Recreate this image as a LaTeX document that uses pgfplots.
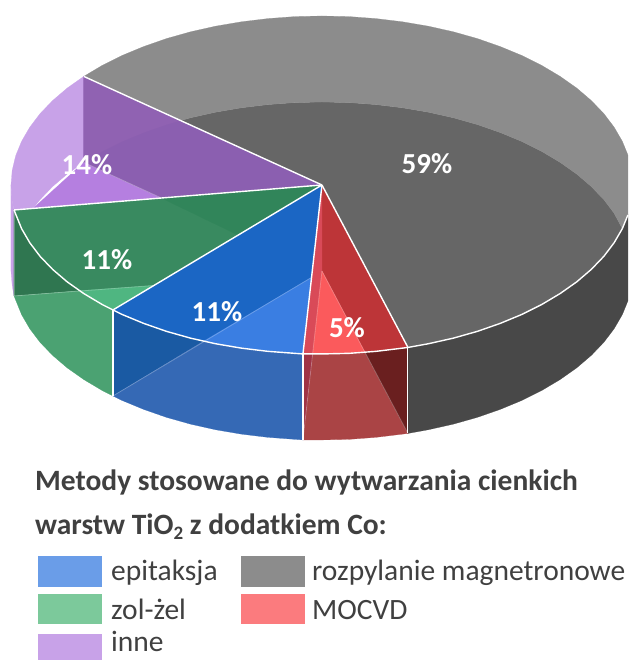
\documentclass[border=0pt]{standalone}
\usepackage{pgfplots}
\pgfplotsset{compat=1.18}
\usepackage{fontspec}
\setmainfont{Carlito}
\definecolor{gband}{HTML}{8C8C8C}
\definecolor{gfloor}{HTML}{666666}
\definecolor{gwall}{HTML}{484848}
\definecolor{plight}{HTML}{C8A2E8}
\definecolor{pmid}{HTML}{B57FE0}
\definecolor{pdark}{HTML}{8B5FB0}
\definecolor{pup}{HTML}{9062B2}
\definecolor{gnmain}{HTML}{398A60}
\definecolor{gnup}{HTML}{31855A}
\definecolor{gndark}{HTML}{2F7650}
\definecolor{gnlight}{HTML}{4FB681}
\definecolor{gnwall}{HTML}{4BA272}
\definecolor{bmain}{HTML}{1B66C4}
\definecolor{bdark}{HTML}{1A5AA3}
\definecolor{blight}{HTML}{3A7EE2}
\definecolor{bwall}{HTML}{3569B5}
\definecolor{rmain}{HTML}{BD3538}
\definecolor{rstrip}{HTML}{D94A58}
\definecolor{rlight}{HTML}{FB5A5C}
\definecolor{rwall}{HTML}{AA4445}
\definecolor{rsliver}{HTML}{A03345}
\definecolor{rdark}{HTML}{6A1F1F}
\definecolor{txt}{HTML}{404040}
\definecolor{lblue}{HTML}{6A9DE8}
\definecolor{lgreen}{HTML}{7CC99B}
\definecolor{lred}{HTML}{FB7B7E}
\pgfplotsset{reg/.style={no marks,forget plot,fill=#1,draw=#1,line width=0.2pt},
 wl/.style={no marks,forget plot,draw=white,line width=1.4pt,line join=round},
 wf/.style={no marks,forget plot,draw=white,draw opacity=0.25,line width=0.8pt}}
\begin{document}
\begin{tikzpicture}
\begin{axis}[hide axis,scale only axis,width=628pt,height=660pt,xmin=0,xmax=628,ymin=0,ymax=660,y dir=reverse,clip=false]
\path (axis cs:0,0) rectangle (axis cs:628,660);
% grey: floor, back wall, front wall
\addplot[reg=gfloor] coordinates {(322,185)(408,347.5)(428.4,343.8)(453.4,338.2)(477.5,331.4)(500.4,323.4)(521.9,314.5)(541.9,304.5)(560.2,293.6)(576.8,281.9)(591.3,269.5)(603.9,256.4)(614.2,242.8)(622.4,228.7)(614.2,213.2)(603.9,199.6)(591.3,186.5)(576.8,174.1)(560.2,162.4)(541.9,151.5)(521.9,141.5)(500.4,132.6)(477.5,124.6)(453.4,117.8)(428.4,112.2)(402.5,107.8)(376,104.6)(349.1,102.6)(322,102)(294.9,102.6)(268,104.6)(241.5,107.8)(215.6,112.2)(190.6,117.8)(181,120.5)} -- cycle;
\addplot[reg=gband] coordinates {(83.8,76.4)(102.1,65.5)(122.1,55.5)(143.6,46.6)(166.5,38.6)(190.6,31.8)(215.6,26.2)(241.5,21.8)(268,18.6)(294.9,16.6)(322,16)(349.1,16.6)(376,18.6)(402.5,21.8)(428.4,26.2)(453.4,31.8)(477.5,38.6)(500.4,46.6)(521.9,55.5)(541.9,65.5)(560.2,76.4)(576.8,88.1)(591.3,100.5)(603.9,113.6)(614.2,127.2)(622.4,141.3)(628,155)(628,215)(622.4,228.7)(614.2,213.2)(603.9,199.6)(591.3,186.5)(576.8,174.1)(560.2,162.4)(541.9,151.5)(521.9,141.5)(500.4,132.6)(477.5,124.6)(453.4,117.8)(428.4,112.2)(402.5,107.8)(376,104.6)(349.1,102.6)(322,102)(294.9,102.6)(268,104.6)(241.5,107.8)(215.6,112.2)(190.6,117.8)(181,120.5)} -- cycle;
\addplot[reg=gwall] coordinates {(408,347.5)(428.4,343.8)(453.4,338.2)(477.5,331.4)(500.4,323.4)(521.9,314.5)(541.9,304.5)(560.2,293.6)(576.8,281.9)(591.3,269.5)(603.9,256.4)(614.2,242.8)(622.4,228.7)(628,215)(628,301)(622.4,314.7)(614.2,328.8)(603.9,342.4)(591.3,355.5)(576.8,367.9)(560.2,379.6)(541.9,390.5)(521.9,400.5)(500.4,409.4)(477.5,417.4)(453.4,424.2)(428.4,429.8)(408,433.5)} -- cycle;
% purple
\addplot[reg=plight] coordinates {(83.8,76.4)(67.2,88.1)(52.7,100.5)(40.1,113.6)(29.8,127.2)(21.6,141.3)(15.7,155.7)(12.2,170.3)(11,185)(12,200)(14,210)(33,208.5)(40.1,199.6)(52.7,186.5)(67.2,174.1)(83.8,162.4)} -- cycle;
\addplot[reg=plight] coordinates {(11,185)(12,200)(14,210)(14,296)(12.2,285.7)(11,271)} -- cycle;
\addplot[reg=pmid] coordinates {(83.8,162.4)(33,208.5)(161,197.8)} -- cycle;
\addplot[reg=pdark] coordinates {(83.8,76.4)(322,185)(161,197.8)(83.8,162.4)} -- cycle;
\addplot[reg=pup] coordinates {(83.8,76.4)(181,120.5)(166.5,124.6)(143.6,132.6)(122.1,141.5)(102.1,151.5)(83.8,162.4)} -- cycle;
% green
\addplot[reg=gnmain] coordinates {(322,185)(14,210)(21.6,228.7)(29.8,242.8)(40.1,256.4)(52.7,269.5)(67.2,281.9)(83.8,293.6)(102.1,304.5)(113,310)} -- cycle;
\addplot[reg=gnup] coordinates {(161,197.8)(322,185)(238,235)} -- cycle;
\addplot[reg=gndark] coordinates {(14,210)(21.6,228.7)(29.8,242.8)(40.1,256.4)(52.7,269.5)(67.2,281.9)(80,290.7)(14,296)} -- cycle;
\addplot[reg=gnlight] coordinates {(80,290.7)(83.8,293.6)(102.1,304.5)(113,310)(154,285.5)} -- cycle;
\addplot[reg=gnwall] coordinates {(14,296)(80,290.7)(83.8,293.6)(102.1,304.5)(113,310)(113,396)(102.1,390.5)(83.8,379.6)(67.2,367.9)(52.7,355.5)(40.1,342.4)(29.8,328.8)(21.6,314.7)} -- cycle;
% blue
\addplot[reg=bmain] coordinates {(322,185)(113,310)(122.1,314.5)(143.6,323.4)(166.5,331.4)(190.6,338.2)(215.6,343.8)(241.5,348.2)(268,351.4)(294.9,353.4)(303,354)} -- cycle;
\addplot[reg=bdark] coordinates {(113,310)(122.1,314.5)(143.6,323.4)(166.5,331.4)(190.6,338.2)(203,341.5)(113,396)} -- cycle;
\addplot[reg=blight] coordinates {(203,341.5)(311.5,277.5)(303,354)(294.9,353.4)(268,351.4)(241.5,348.2)(215.6,343.8)} -- cycle;
\addplot[reg=bwall] coordinates {(203,341.5)(215.6,343.8)(241.5,348.2)(268,351.4)(294.9,353.4)(303,354)(303,440)(294.9,439.4)(268,437.4)(241.5,434.2)(215.6,429.8)(190.6,424.2)(166.5,417.4)(143.6,409.4)(122.1,400.5)(113,396)} -- cycle;
% red
\addplot[reg=rmain] coordinates {(322,185)(303,354)(322,354)(349.1,353.4)(376,351.4)(402.5,348.2)(408,347.5)} -- cycle;
\addplot[reg=rstrip] coordinates {(322,185)(322,271)(312.7,354)(303,354)} -- cycle;
\addplot[reg=rlight] coordinates {(322,271)(312.7,354)(322,354)(349.1,353.4)(365,352.3)} -- cycle;
\addplot[reg=rwall] coordinates {(312.7,354)(322,354)(349.1,353.4)(365,352.3)(408,433.5)(402.5,434.2)(376,437.4)(349.1,439.4)(322,440)(303,440)} -- cycle;
\addplot[reg=rsliver] coordinates {(303,354)(312.7,354)(303,440)} -- cycle;
\addplot[reg=rdark] coordinates {(365,352.3)(376,351.4)(402.5,348.2)(408,347.5)(408,433.5)} -- cycle;
% faint edges
\addplot[wf] coordinates {(83.8,162.4)(161,197.8)};
\addplot[wf] coordinates {(113,396)(311.5,277.5)};
\addplot[wf] coordinates {(14,296)(154,285.5)};
\addplot[wf] coordinates {(322,271)(408,433.5)};
\addplot[wf] coordinates {(322,271)(303,440)};
\addplot[wf] coordinates {(14,210)(14,296)};
% white edges
\addplot[wl] coordinates {(83.8,76.4)(322,185)};
\addplot[wl] coordinates {(14,210)(322,185)};
\addplot[wl] coordinates {(113,310)(322,185)};
\addplot[wl] coordinates {(303,354)(322,185)};
\addplot[wl] coordinates {(408,347.5)(322,185)};
\addplot[wl] coordinates {(14,210)(21.6,228.7)(29.8,242.8)(40.1,256.4)(52.7,269.5)(67.2,281.9)(83.8,293.6)(102.1,304.5)(113,310)(122.1,314.5)(143.6,323.4)(166.5,331.4)(190.6,338.2)(215.6,343.8)(241.5,348.2)(268,351.4)(294.9,353.4)(303,354)(322,354)(349.1,353.4)(376,351.4)(402.5,348.2)(408,347.5)(428.4,343.8)(453.4,338.2)(477.5,331.4)(500.4,323.4)(521.9,314.5)(541.9,304.5)(560.2,293.6)(576.8,281.9)(591.3,269.5)(603.9,256.4)(614.2,242.8)(622.4,228.7)(628,215)};
\addplot[wl] coordinates {(113,310)(113,396)};
\addplot[wl] coordinates {(303,354)(303,440)};
\addplot[wl,line width=1pt] coordinates {(408,347.5)(408,433.5)};
% legend swatches
\addplot[reg=lblue] coordinates {(38,556)(101,556)(101,586)(38,586)} -- cycle;
\addplot[reg=lgreen] coordinates {(38,594)(101,594)(101,623)(38,623)} -- cycle;
\addplot[reg=plight] coordinates {(38,634)(101,634)(101,660)(38,660)} -- cycle;
\addplot[reg=gband] coordinates {(241,556)(304,556)(304,586)(241,586)} -- cycle;
\addplot[reg=lred] coordinates {(241,594)(304,594)(304,623)(241,623)} -- cycle;
% texts
\tikzset{pct/.style={text=white,font=\fontsize{29}{30}\selectfont\bfseries,anchor=center,inner sep=0pt},
 ttl/.style={text=txt,font=\fontsize{29.5}{32}\selectfont\bfseries,anchor=base west,inner sep=0pt},
 leg/.style={text=txt,font=\fontsize{29.5}{32}\selectfont,anchor=base west,inner sep=0pt}}
\node[pct] at (axis cs:87,165) {14\%};
\node[pct] at (axis cs:107,260) {11\%};
\node[pct] at (axis cs:217,312) {11\%};
\node[pct] at (axis cs:347,328) {5\%};
\node[pct] at (axis cs:427,164) {59\%};
\node[ttl] at (axis cs:35,491) {Metody stosowane do wytwarzania cienkich};
\node[ttl] at (axis cs:35,535) {warstw TiO\raisebox{-5pt}{\fontsize{19}{19}\selectfont 2} z dodatkiem Co:};
\node[leg] at (axis cs:111,581) {epitaksja};
\node[leg] at (axis cs:111,620) {zol-żel};
\node[leg] at (axis cs:111,652) {inne};
\node[leg] at (axis cs:312,581) {rozpylanie magnetronowe};
\node[leg] at (axis cs:312,620) {MOCVD};
\end{axis}
\end{tikzpicture}
\end{document}
